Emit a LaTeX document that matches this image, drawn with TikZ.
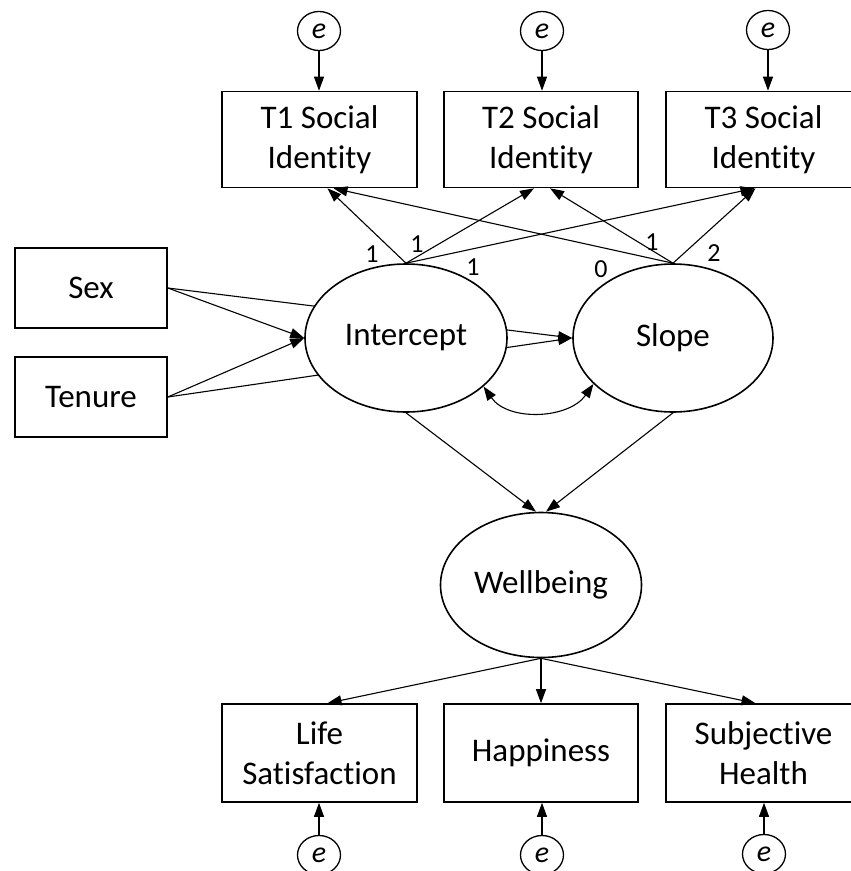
\documentclass[tikz,border=0pt]{standalone}
\usepackage{fontspec}
\setmainfont{Carlito}[Ligatures=NoCommon]
\usetikzlibrary{shapes.geometric,arrows.meta,calc,backgrounds}
\tikzset{
  obsbox/.style={draw, line width=1.6pt, rectangle, minimum width=195pt, minimum height=96pt,
    inner sep=0pt, align=center, font=\fontsize{33}{40}\selectfont, fill=white},
  latent/.style={draw, line width=1.6pt, ellipse, inner sep=0pt, minimum width=202pt,
    minimum height=148pt, font=\fontsize{33}{40}\selectfont, fill=white},
  errc/.style={draw, line width=1.3pt, ellipse, inner sep=0pt, minimum width=43pt,
    minimum height=39pt, font=\fontsize{30}{30}\selectfont\itshape, fill=white},
  arr/.style={line width=1.1pt, -{Triangle[length=14pt,width=10pt]}},
  darr/.style={line width=1.1pt, {Triangle[length=14pt,width=10pt]}-{Triangle[length=14pt,width=10pt]}},
  lbl/.style={inner sep=0pt, font=\fontsize{26}{28}\selectfont}
}
\begin{document}
\begin{tikzpicture}[x=1pt,y=1pt]
\clip (0,0) rectangle (851,-871);
% error terms top
\node[errc] (eT1) at (319,-31) {e};
\node[errc] (eT2) at (542,-31) {e};
\node[errc] (eT3) at (768,-30) {e};
% indicators top
\node[obsbox] (T1) at (319.5,-139.5) {T1 Social\\Identity};
\node[obsbox, minimum width=194pt] (T2) at (541,-139.5) {T2 Social\\Identity};
\node[obsbox] (T3) at (763.5,-139.5) {T3 Social\\Identity};
% covariates
\node[obsbox, minimum width=152pt, minimum height=80pt] (Sex) at (91,-288) {Sex};
\node[obsbox, minimum width=152pt, minimum height=80pt] (Tenure) at (91,-397) {Tenure};
% latent
\node[latent] (Int) at (406,-338) {Intercept};
\node[latent, minimum width=200pt] (Slope) at (673,-338) {Slope};
\node[latent, minimum width=201pt, minimum height=145pt] (Well) at (541,-585) {Wellbeing};
% outcomes
\node[obsbox, minimum height=98pt] (Life) at (319.5,-753) {Life\\Satisfaction};
\node[obsbox, minimum width=194pt, minimum height=98pt] (Happy) at (541,-753) {Happiness};
\node[obsbox, minimum height=98pt] (Subj) at (763.5,-753) {Subjective\\Health};
% error terms bottom
\node[errc] (eB1) at (319,-855) {e};
\node[errc] (eB2) at (542,-855) {e};
\node[errc] (eB3) at (764,-854) {e};

\begin{scope}[on background layer]
  \fill[white] (0,0) rectangle (851,-871);
  \draw[arr] (Sex.east) -- (Slope.west);
  \draw[arr] (Tenure.east) -- (Slope.west);
\end{scope}
\draw[arr] (Sex.east) -- (Int.west);
\draw[arr] (Tenure.east) -- (Int.west);

% error arrows
\draw[arr] (eT1.south) -- (eT1.south |- T1.north);
\draw[arr] (eT2.south) -- (eT2.south |- T2.north);
\draw[arr] (eT3.south) -- (eT3.south |- T3.north);
\draw[arr] (eB1.north) -- (eB1.north |- Life.south);
\draw[arr] (eB2.north) -- (eB2.north |- Happy.south);
\draw[arr] (eB3.north) -- (eB3.north |- Subj.south);

% loadings
\draw[arr] (Int.north) -- ($(T1.south)+(8,0)$);
\draw[arr] (Int.north) -- ($(T2.south)+(-7,0)$);
\draw[arr] (Int.north) -- ($(T3.south)+(-9,0)$);
\draw[arr] (Slope.north) -- ($(T1.south)+(14,0)$);
\draw[arr] (Slope.north) -- ($(T2.south)+(9,0)$);
\draw[arr] (Slope.north) -- ($(T3.south)+(-8,0)$);

% covariance
\draw[darr] (Int.-32) to[out=-55,in=-125] (Slope.-150);

% to wellbeing
\draw[arr] (Int.south) -- ($(Well.north)+(-5,0)$);
\draw[arr] (Slope.south) -- ($(Well.north)+(5,0)$);

% wellbeing indicators
\draw[arr] (Well.south) -- ($(Life.north)+(8,0)$);
\draw[arr] (Well.south) -- (Happy.north);
\draw[arr] (Well.south) -- ($(Subj.north)+(-8,0)$);

% labels
\node[lbl] (l1) at (372,-254) {1};
\node[lbl] (l2) at (417,-244) {1};
\node[lbl] (l3) at (473,-267) {1};
\node[lbl] (l4) at (652,-242) {1};
\node[lbl] (l5) at (601,-269) {0};
\node[lbl] (l6) at (714,-253) {2};
\end{tikzpicture}
\end{document}
